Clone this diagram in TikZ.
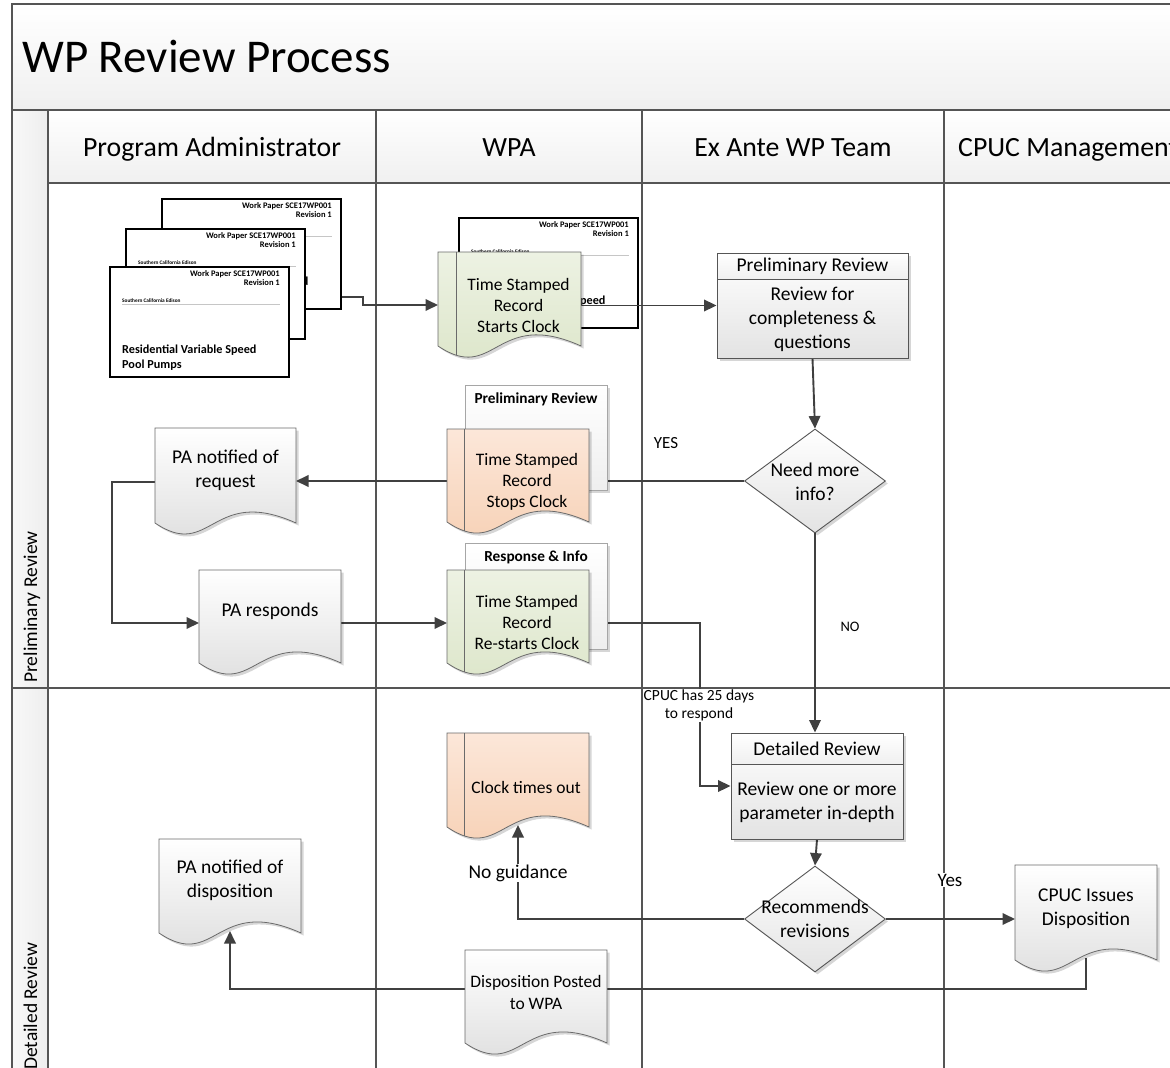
\documentclass[tikz,border=0pt]{standalone}
\usepackage{fontspec}
\setmainfont{Carlito}
\usetikzlibrary{arrows.meta,shadows,shapes.geometric,calc}
\pgfdeclarelayer{lanes}\pgfdeclarelayer{thumbs}\pgfdeclarelayer{conns}
\pgfsetlayers{lanes,thumbs,conns,main}
\newcommand\myfs[2]{\fontsize{#1}{#2}\selectfont}
\definecolor{lanecol}{HTML}{555555}
\definecolor{conncol}{HTML}{404040}
\definecolor{edgecol}{HTML}{6A6A6A}
\definecolor{grntop}{HTML}{EDF2E3}
\definecolor{grnbot}{HTML}{DAE4C6}
\definecolor{orgtop}{HTML}{FCE7D9}
\definecolor{orgbot}{HTML}{F6CEB1}
\definecolor{gbot}{HTML}{DADADA}
\tikzset{
 lane/.style={draw=lanecol, line width=1.5pt},
 conn/.style={draw=conncol, line width=1.9pt, -{Triangle[length=12.5pt,width=11.5pt]}},
 myshadow/.style={drop shadow={shadow xshift=2.5pt, shadow yshift=-2.5pt, opacity=0.16, fill=black}},
 graydoc/.style={draw=edgecol, line width=0.8pt, top color=white, bottom color=gbot, myshadow},
 greendoc/.style={draw=edgecol, line width=0.8pt, top color=grntop, bottom color=grnbot, myshadow},
 orangedoc/.style={draw=edgecol, line width=0.8pt, top color=orgtop, bottom color=orgbot, myshadow},
 anchorbox/.style={draw=none, fill=none, inner sep=0pt, outer sep=0pt, rectangle},
 bodytext/.style={font=\myfs{19.5}{24}, align=center, inner sep=0pt},
 smalltext/.style={font=\myfs{17.5}{21}, align=center, inner sep=0pt},
 titletext/.style={font=\myfs{47}{50}, inner sep=0pt},
 hdr/.style={font=\myfs{27.8}{30}, inner sep=0pt},
 lanelbl/.style={font=\myfs{19.5}{22}, inner sep=0pt},
 wpbox/.style={draw=black, line width=1.8pt, fill=white, minimum width=179pt, minimum height=110pt, inner sep=0pt},
 wptitle/.style={font=\bfseries\myfs{8.5}{10}, inner sep=0pt},
 wpsce/.style={font=\bfseries\myfs{5.3}{6}, inner sep=0pt},
 wpname/.style={font=\bfseries\myfs{12.2}{15}, inner sep=0pt},
 notebox/.style={draw=gray!70, line width=0.8pt, top color=white, bottom color=gray!13, inner sep=0pt, myshadow},
 notetitle/.style={font=\bfseries\myfs{15.3}{18}, inner sep=0pt},
 boxbody/.style={draw=lanecol, line width=0.9pt, top color=white, bottom color=gray!22, inner sep=0pt, myshadow},
 boxhead/.style={draw=lanecol, line width=0.9pt, top color=white, bottom color=gray!12, inner sep=0pt, font=\myfs{19.5}{22}},
 dia/.style={diamond, draw=lanecol, line width=0.9pt, top color=white, bottom color=gray!22, inner sep=0pt, myshadow},
 lbl/.style={inner sep=0pt},
}
% document shape: name, x1, y1, w, h, style
\newcommand\docshape[6]{%
 \path[#6] (#2,#3) -- ({#2+#4},#3) -- ({#2+#4},{#3+#5})
   .. controls ({#2+0.4*#4},{#3+#5-0.27*#4}) and ({#2+0.4*#4},{#3+#5+0.27*#4}) .. (#2,{#3+#5}) -- cycle;
 \node[anchorbox, minimum width=#4pt, minimum height=#5pt] (#1) at ({#2+#4/2},{#3+#5/2}) {};
 \coordinate (#1-b) at ({#2+#4/2},{#3+#5-2});
}
\newcommand\docinner[3]{\draw[edgecol, line width=0.8pt] (#1,#2) -- (#1,#3);}
% work paper thumbnail: name, x, y (top left)
\newcommand\wpaper[3]{%
 \node[wpbox] (#1) at ({#2+89.5},{#3+55}) {};
 \node[wptitle, anchor=base east] (#1-a) at ({#2+170},{#3+9.5}) {Work Paper SCE17WP001};
 \node[wptitle, anchor=base east] (#1-r) at ({#2+170},{#3+18.5}) {Revision 1};
 \node[wpsce, anchor=base west] (#1-c) at ({#2+12},{#3+35}) {Southern California Edison};
 \draw[gray!45, line width=0.6pt] ({#2+12},{#3+37.5}) -- ({#2+170},{#3+37.5});
 \node[wpname, anchor=base west] (#1-d) at ({#2+12},{#3+86}) {Residential Variable Speed};
 \node[wpname, anchor=base west] (#1-e) at ({#2+12},{#3+101}) {Pool Pumps};
}
\begin{document}
\begin{tikzpicture}[x=1pt,y=-1pt]
\useasboundingbox (0,0) rectangle (1170,1068);
% ---------- swimlanes ----------
\begin{pgfonlayer}{lanes}
 \clip (0,0) rectangle (1170,1068);
 \path[top color=white, bottom color=gray!12] (12,4) rectangle (1195,110);
 \path[left color=gray!5, right color=gray!14] (12,110) rectangle (48,1095);
 \path[top color=white, bottom color=gray!12] (48,110) rectangle (1195,183);
 \draw[lane] (1195,4) -- (12,4) -- (12,1095);
 \draw[lane] (12,110) -- (1195,110);
 \draw[lane] (48,110) -- (48,1095);
 \draw[lane] (48,183) -- (1195,183);
 \draw[lane] (12,688) -- (1195,688);
 \foreach \x in {376,642,944} \draw[lane] (\x,110) -- (\x,1095);
 \node[titletext, anchor=base west] (title) at (22,72) {WP Review Process};
 \node[hdr, anchor=base] (h1) at (212,156) {Program Administrator};
 \node[hdr, anchor=base] (h2) at (509,156) {WPA};
 \node[hdr, anchor=base] (h3) at (793,156) {Ex Ante WP Team};
 \node[hdr, anchor=base west] (h4) at (958,156) {CPUC Management};
 \node[lanelbl, rotate=90, anchor=base west] (l1) at (37,683) {Preliminary Review};
 \node[lanelbl, rotate=90, anchor=base west] (l2) at (37,1070) {Detailed Review};
\end{pgfonlayer}
% ---------- work paper thumbnails ----------
\begin{pgfonlayer}{thumbs}
 \wpaper{wp1}{162}{199}
 \wpaper{wp2}{126}{229}
 \wpaper{wp3}{110}{267}
 \wpaper{wp4}{459}{218}
\end{pgfonlayer}
% ---------- notes behind records ----------
\node[notebox, minimum width=142pt, minimum height=105pt] (prnote) at (536,437.5) {};
\node[notetitle] (prnote-t) at (536,399) {Preliminary Review};
\node[notebox, minimum width=142pt, minimum height=106pt] (rinote) at (536,596) {};
\node[notetitle] (rinote-t) at (536,557) {Response \& Info};
% ---------- documents ----------
\docshape{req}{155}{428}{141}{95}{graydoc}
\node[bodytext] (req-t) at (225.5,470) {PA notified of\\request};
\docshape{presp}{199}{570}{142}{93}{graydoc}
\node[bodytext] (presp-t) at (270,611) {PA responds};
\docshape{pdisp}{159}{839}{142}{94}{graydoc}
\node[bodytext] (pdisp-t) at (230,880) {PA notified of\\disposition};
\docshape{start}{438}{252}{143}{94}{greendoc}
\docinner{456}{252}{355}
\node[smalltext] (start-t) at (518.5,305) {Time Stamped\\Record\\Starts Clock};
\docshape{stop}{447}{429}{142}{93}{orangedoc}
\docinner{464}{429}{531}
\node[smalltext] (stop-t) at (527,481.5) {Time Stamped\\Record\\Stops Clock};
\docshape{restart}{447}{570}{142}{93}{greendoc}
\docinner{464}{570}{672}
\node[smalltext] (restart-t) at (527,622.5) {Time Stamped\\Record\\Re-starts Clock};
\docshape{clock}{447}{733}{142}{94}{orangedoc}
\docinner{464}{733}{836}
\node[smalltext] (clock-t) at (526,787) {Clock times out};
\docshape{posted}{465}{950}{142}{93}{graydoc}
\node[font=\myfs{17.5}{22}, align=center, inner sep=0pt] (posted-t) at (536,992) {Disposition Posted\\to WPA};
\docshape{cpucdoc}{1015}{865}{142}{95}{graydoc}
\node[bodytext] (cpucdoc-t) at (1086,908.5) {CPUC Issues\\Disposition};
% ---------- process boxes ----------
\node[boxbody, minimum width=191pt, minimum height=105pt] (prbox) at (812.5,305.5) {};
\node[boxhead, minimum width=191pt, minimum height=26pt, anchor=north] (prbox-h) at (prbox.north) {Preliminary Review};
\node[bodytext] (prbox-t) at (812.5,319) {Review for\\completeness \&\\questions};
\node[boxbody, minimum width=172pt, minimum height=106pt] (drbox) at (817,786) {};
\node[boxhead, minimum width=172pt, minimum height=31pt, anchor=north] (drbox-h) at (drbox.north) {Detailed Review};
\node[bodytext] (drbox-t) at (817,802) {Review one or more\\parameter in-depth};
% ---------- decisions ----------
\node[dia, minimum width=141pt, minimum height=104pt] (needinfo) at (815,481) {};
\node[bodytext] (needinfo-t) at (815,481.5) {Need more\\info?};
\node[dia, minimum width=141pt, minimum height=106pt] (recommend) at (815,919) {};
\node[bodytext] (recommend-t) at (815,918.5) {Recommends\\revisions};
% ---------- connectors ----------
\begin{pgfonlayer}{conns}
 \draw[conn] ([yshift=-43pt]wp1.east) -- ++(21,0) |- ([yshift=-6pt]start.west);
 \draw[conn] (start.east |- prbox.west) -- (prbox.west);
 \draw[conn] (prbox.south) -- (needinfo.north);
 \draw[conn] (needinfo.west) -- (req.east |- needinfo.west);
 \draw[conn] ([yshift=-6.5pt]req.west) -- ++(-43,0) |- ([yshift=-6.5pt]presp.west);
 \draw[conn] ([yshift=-6.5pt]presp.east) -- ([yshift=-6.5pt]restart.west);
 \draw[conn] ([yshift=-6.5pt]restart.east) -| ([xshift=-31pt]drbox.west) -- (drbox.west);
 \draw[conn] (needinfo.south) -- (needinfo.south |- drbox.north);
 \draw[conn] (drbox.south) -- (recommend.north);
 \draw[conn] (recommend.east) -- (recommend.east -| cpucdoc.west);
 \draw[conn] (recommend.west) -| (clock-b);
 \draw[conn] (cpucdoc-b) -- ++(0,31) -| (pdisp-b);
\end{pgfonlayer}
% ---------- connector labels ----------
\node[lbl, font=\myfs{17}{20}] (yes1) at (666,443) {YES};
\node[lbl, font=\myfs{14.5}{17}] (no1) at (850,627) {NO};
\node[lbl, fill=white, font=\myfs{15.5}{18.5}, align=center, inner ysep=1pt] (days) at (699,705.5) {CPUC has 25 days\\to respond};
\node[lbl, fill=white, inner sep=1pt, font=\myfs{19.5}{22}] (noguid) at (518,873) {No guidance};
\node[lbl, fill=white, inner sep=1pt, font=\myfs{19}{22}] (yes2) at (950,880) {Yes};
\end{tikzpicture}
\end{document}
